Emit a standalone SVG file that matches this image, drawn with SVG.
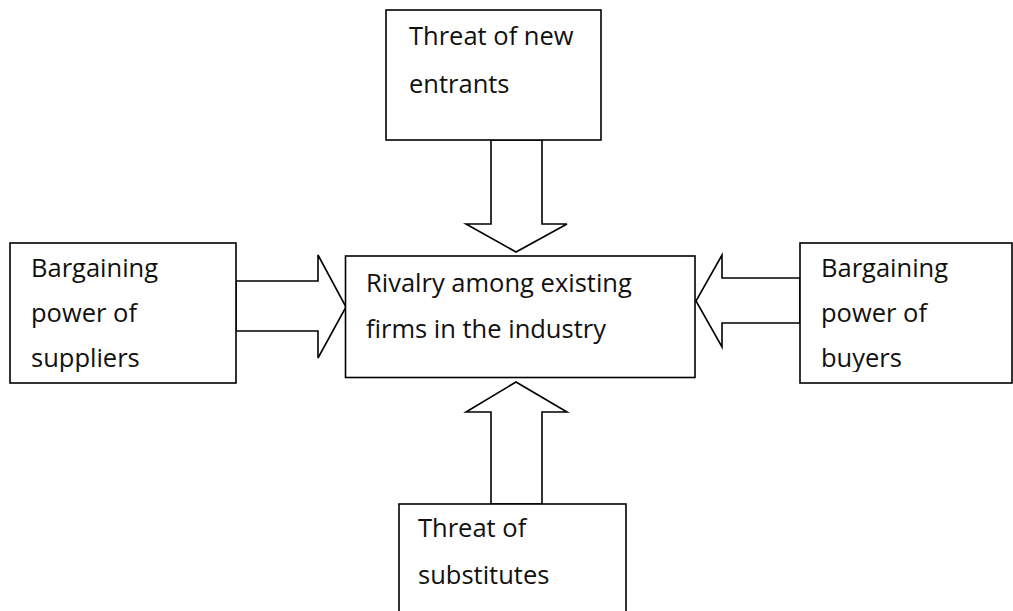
<svg xmlns="http://www.w3.org/2000/svg" width="1013" height="611" viewBox="0 0 1013 611">
  <style>
    .box { fill: #ffffff; stroke: #000000; stroke-width: 1.6; }
    .arrow { fill: #ffffff; stroke: #000000; stroke-width: 1.6; stroke-linejoin: miter; }
    .label { font-family: "Open Sans", "Noto Sans", "DejaVu Sans", sans-serif; font-size: 25.5px; fill: #111111; }
  </style>
  <defs>
    <clipPath id="clip-suppliers"><rect x="10" y="243" width="226" height="129"/></clipPath>
    <clipPath id="clip-buyers"><rect x="800" y="243" width="212" height="129"/></clipPath>
  </defs>
  <rect width="1013" height="611" fill="#ffffff"/>

  <!-- block arrows pointing into the central box -->
  <g id="connectors">
    <polygon class="arrow" points="491,140 491,224 466,224 516,252 567,224 542,224 542,140"/>
    <polygon class="arrow" points="491,504 491,412 466,412 516,382 567,412 542,412 542,504"/>
    <polygon class="arrow" points="236,281 318,281 318,255 346,307 318,358 318,331 236,331"/>
    <polygon class="arrow" points="800,278 722,278 722,255 696,301 722,347 722,323 800,323"/>
  </g>

  <g id="new-entrants">
    <rect class="box" x="386" y="10" width="215" height="130"/>
    <text class="label" x="409" y="45">Threat of new</text>
    <text class="label" x="409" y="93">entrants</text>
  </g>

  <g id="rivalry">
    <rect class="box" x="345.5" y="256" width="349.5" height="121.5"/>
    <text class="label" x="366" y="292">Rivalry among existing</text>
    <text class="label" x="366" y="338">firms in the industry</text>
  </g>

  <g id="suppliers">
    <rect class="box" x="10" y="243" width="226" height="140"/>
    <g clip-path="url(#clip-suppliers)">
      <text class="label" x="31" y="277">Bargaining</text>
      <text class="label" x="31" y="322">power of</text>
      <text class="label" x="31" y="367">suppliers</text>
    </g>
  </g>

  <g id="buyers">
    <rect class="box" x="800" y="243" width="212" height="140"/>
    <g clip-path="url(#clip-buyers)">
      <text class="label" x="821" y="277">Bargaining</text>
      <text class="label" x="821" y="322">power of</text>
      <text class="label" x="821" y="367">buyers</text>
    </g>
  </g>

  <g id="substitutes">
    <rect class="box" x="399" y="504" width="227" height="120"/>
    <text class="label" x="418" y="537">Threat of</text>
    <text class="label" x="418" y="584">substitutes</text>
  </g>
</svg>
